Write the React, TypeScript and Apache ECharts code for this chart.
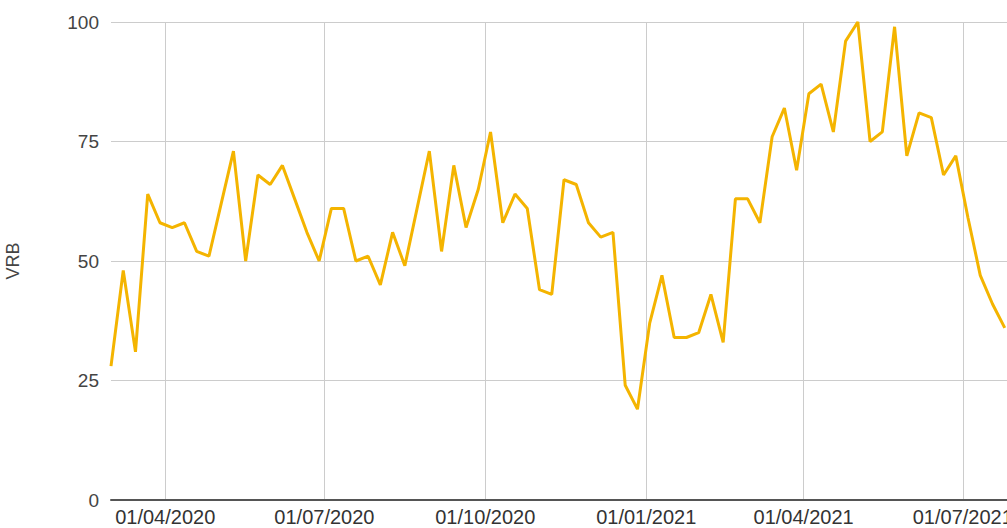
import React, { useEffect, useRef } from "react";
import * as echarts from "echarts";

const WEEKS: string[] = [
  "2020-03-01", "2020-03-08", "2020-03-15", "2020-03-22", "2020-03-29",
  "2020-04-05", "2020-04-12", "2020-04-19", "2020-04-26",
  "2020-05-03", "2020-05-10", "2020-05-17", "2020-05-24", "2020-05-31",
  "2020-06-07", "2020-06-14", "2020-06-21", "2020-06-28",
  "2020-07-05", "2020-07-12", "2020-07-19", "2020-07-26",
  "2020-08-02", "2020-08-09", "2020-08-16", "2020-08-23", "2020-08-30",
  "2020-09-06", "2020-09-13", "2020-09-20", "2020-09-27",
  "2020-10-04", "2020-10-11", "2020-10-18", "2020-10-25",
  "2020-11-01", "2020-11-08", "2020-11-15", "2020-11-22", "2020-11-29",
  "2020-12-06", "2020-12-13", "2020-12-20", "2020-12-27",
  "2021-01-03", "2021-01-10", "2021-01-17", "2021-01-24", "2021-01-31",
  "2021-02-07", "2021-02-14", "2021-02-21", "2021-02-28",
  "2021-03-07", "2021-03-14", "2021-03-21", "2021-03-28",
  "2021-04-04", "2021-04-11", "2021-04-18", "2021-04-25",
  "2021-05-02", "2021-05-09", "2021-05-16", "2021-05-23", "2021-05-30",
  "2021-06-06", "2021-06-13", "2021-06-20", "2021-06-27",
  "2021-07-04", "2021-07-11", "2021-07-18", "2021-07-25",
];

const VRB: number[] = [
  28, 48, 31, 64, 58, 57, 58, 52, 51, 62, 73, 50, 68, 66, 70, 63, 56, 50,
  61, 61, 50, 51, 45, 56, 49, 61, 73, 52, 70, 57, 65, 77, 58, 64, 61, 44,
  43, 67, 66, 58, 55, 56, 24, 19, 37, 47, 34, 34, 35, 43, 33, 63, 63, 58,
  76, 82, 69, 85, 87, 77, 96, 100, 75, 77, 99, 72, 81, 80, 68, 72, 59, 47,
  41, 36,
];

const QUARTER_TICKS: string[] = [
  "2020-04-01", "2020-07-01", "2020-10-01", "2021-01-01", "2021-04-01", "2021-07-01",
];

const Y_TICKS: number[] = [0, 25, 50, 75, 100];

const X_MIN = "2020-03-01";
const X_MAX = "2021-08-01";

const FONT = "'Liberation Sans', Arial, sans-serif";

function toTime(s: string): number {
  const [y, m, d] = s.split("-").map(Number);
  return new Date(y, m - 1, d).getTime();
}

function pad(n: number): string {
  return n < 10 ? "0" + n : String(n);
}

export default function App() {
  const ref = useRef<HTMLDivElement>(null);

  useEffect(() => {
    if (!ref.current) return;
    const chart = echarts.init(ref.current, null, { renderer: "svg" });
    const tickTimes = QUARTER_TICKS.map(toTime);
    chart.setOption({
      animation: false,
      backgroundColor: "#ffffff",
      grid: {
        left: 111,
        top: 22,
        width: 906,
        height: 478,
        outerBoundsMode: "none",
        containLabel: false,
      },
      xAxis: {
        type: "value",
        min: toTime(X_MIN),
        max: toTime(X_MAX),
        scale: true,
        axisLine: { show: true, onZero: false, lineStyle: { color: "#555", width: 2 } },
        axisTick: { show: false, customValues: tickTimes },
        axisLabel: {
          customValues: tickTimes,
          fontSize: 20,
          lineHeight: 20,
          fontFamily: FONT,
          color: "#333",
          margin: 7,
          hideOverlap: false,
          showMinLabel: true,
          showMaxLabel: true,
          formatter: (v: number) => {
            const d = new Date(v);
            return pad(d.getDate()) + "/" + pad(d.getMonth() + 1) + "/" + d.getFullYear();
          },
        },
        splitLine: { show: true, lineStyle: { color: "#cccccc", width: 1 } },
      },
      yAxis: {
        type: "value",
        min: Y_TICKS[0],
        max: Y_TICKS[Y_TICKS.length - 1],
        interval: 25,
        name: "VRB",
        nameLocation: "middle",
        nameGap: 89,
        nameRotate: 90,
        nameTextStyle: { fontSize: 18, fontFamily: FONT, color: "#444" },
        axisLine: { show: false },
        axisTick: { show: false },
        axisLabel: { fontSize: 19, fontFamily: FONT, color: "#444", margin: 12 },
        splitLine: { show: true, lineStyle: { color: "#cccccc", width: 1 } },
      },
      series: [
        {
          type: "line",
          name: "VRB",
          data: WEEKS.map((d, i) => [toTime(d), VRB[i]]),
          showSymbol: false,
          symbol: "none",
          lineStyle: { color: "#F4B400", width: 3 },
          itemStyle: { color: "#F4B400" },
          clip: false,
        },
      ],
    });
    return () => chart.dispose();
  }, []);

  return (
    <div
      ref={ref}
      style={{ position: "fixed", left: 0, top: 0, width: 1007, height: 528, background: "#fff" }}
    />
  );
}
